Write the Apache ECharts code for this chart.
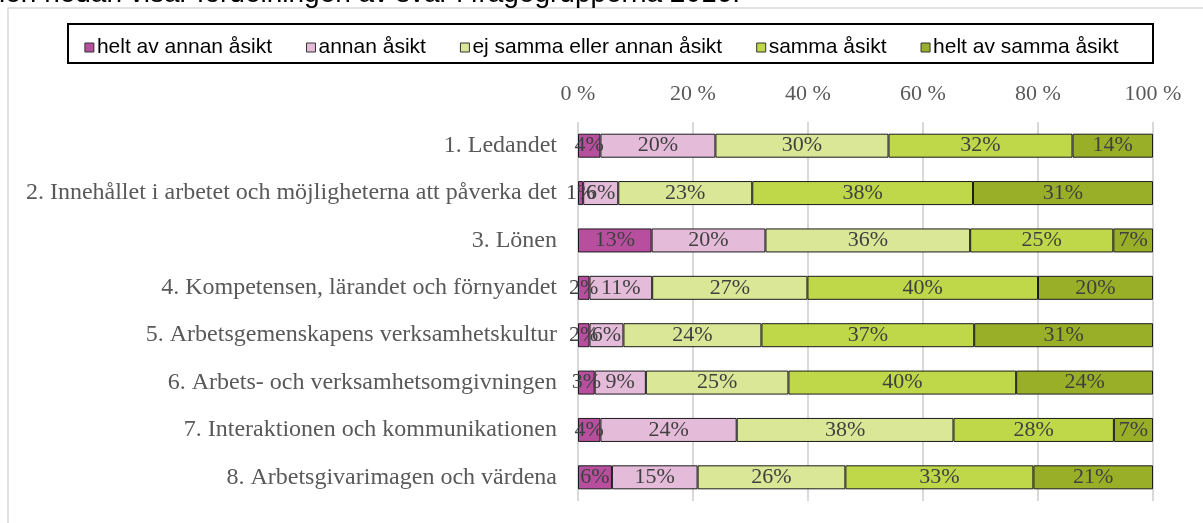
<!DOCTYPE html>
<html>
<head>
<meta charset="utf-8">
<script src="https://cdn.jsdelivr.net/npm/echarts@6/dist/echarts.min.js"></script>
<style>
  html, body { margin: 0; padding: 0; background: #fff; }
  #chart { width: 1203px; height: 523px; }
</style>
</head>
<body>
<div id="chart"></div>
<script>
// frågegrupper
var categories = [
    '1. Ledandet',
    '2. Innehållet i arbetet och möjligheterna att påverka det',
    '3. Lönen',
    '4. Kompetensen, lärandet och förnyandet',
    '5. Arbetsgemenskapens verksamhetskultur',
    '6. Arbets- och verksamhetsomgivningen',
    '7. Interaktionen och kommunikationen',
    '8. Arbetsgivarimagen och värdena'
];
var seriesNames = ['helt av annan åsikt', 'annan åsikt', 'ej samma eller annan åsikt', 'samma åsikt', 'helt av samma åsikt'];
var seriesColors = ['#b84f9e', '#e4bcda', '#d9e797', '#bfd849', '#9aaf28'];

// andelar i procent (läst ur bilden)
var heltAnnan  = [3.9, 0.9, 12.8, 2.0, 2.0, 2.9, 3.9, 5.9];
var annan      = [20.0, 6.1, 19.8, 10.9, 5.9, 8.9, 23.7, 14.9];
var ejSamma    = [30.1, 23.3, 35.6, 27.0, 24.0, 24.8, 37.7, 25.7];
var samma      = [32.0, 38.4, 24.9, 40.1, 37.0, 39.6, 27.9, 32.7];
var heltSamma  = [14.0, 31.3, 6.9, 20.0, 31.1, 23.8, 6.8, 20.8];

var chart = echarts.init(document.getElementById('chart'));

var allData = [heltAnnan, annan, ejSamma, samma, heltSamma];
var series = allData.map(function (d, i) {
    return {
        name: seriesNames[i],
        type: 'bar',
        stack: 'total',
        barWidth: 24,
        data: d,
        itemStyle: { color: seriesColors[i], borderColor: '#1a1a1a', borderWidth: 1 },
        label: {
            show: true,
            position: 'inside',
            formatter: function (p) { return Math.round(p.value) + '%'; },
            fontFamily: 'Liberation Serif',
            fontSize: 22,
            color: '#404040'
        }
    };
});

var option = {
    animation: false,
    textStyle: { fontFamily: 'Liberation Serif' },
    graphic: [
        {
            type: 'text',
            left: -1, top: -20,
            style: { text: 'ien nedan visar fördelningen av svar i frågegrupperna 2016.', font: '28px "Liberation Sans"', fill: '#000' }
        },
        {
            type: 'rect',
            shape: { x: 8, y: 8, width: 1210, height: 530 },
            style: { fill: 'none', stroke: '#d9d9d9', lineWidth: 1.5 },
            z: -1
        },
        {
            type: 'rect',
            shape: { x: 68, y: 24, width: 1085, height: 39 },
            style: { fill: 'none', stroke: '#000', lineWidth: 2 }
        }
    ],
    legend: {
        data: seriesNames,
        left: 'center',
        top: 32,
        icon: 'rect',
        itemWidth: 9,
        itemHeight: 9,
        itemGap: 34,
        itemStyle: { borderColor: '#333', borderWidth: 1 },
        textStyle: { fontFamily: 'Liberation Sans', fontSize: 21, color: '#000', padding: [0, 0, 0, -2] }
    },
    grid: { left: 578, right: 50, top: 122, bottom: 22 },
    xAxis: {
        type: 'value',
        position: 'top',
        min: 0, max: 100, interval: 20,
        axisLine: { show: false },
        axisTick: { show: false },
        axisLabel: {
            margin: 17,
            formatter: '{value} %',
            fontFamily: 'Liberation Serif',
            fontSize: 22,
            color: '#595959'
        },
        splitLine: { lineStyle: { color: '#d9d9d9', width: 2 } }
    },
    yAxis: {
        type: 'category',
        inverse: true,
        data: categories,
        axisLine: { show: false },
        axisTick: { show: false },
        axisLabel: {
            margin: 21,
            fontFamily: 'Liberation Serif',
            fontSize: 24,
            color: '#595959'
        }
    },
    series: series
};

chart.setOption(option);
</script>
</body>
</html>
